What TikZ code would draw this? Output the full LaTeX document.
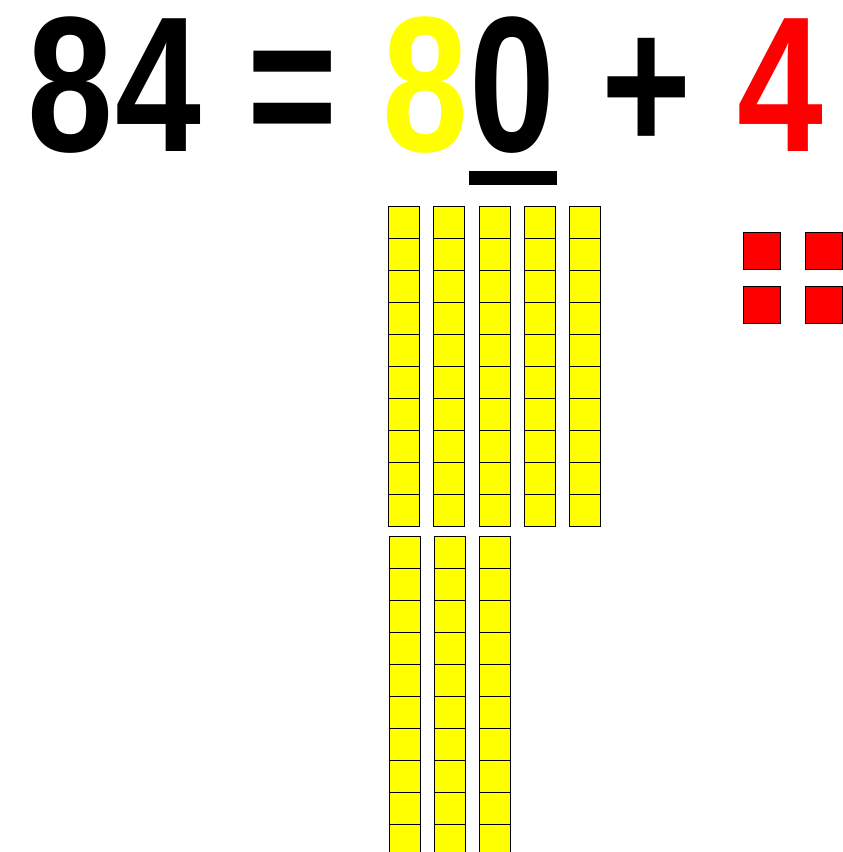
\documentclass[tikz,border=0pt]{standalone}
\usepackage{fontspec}
\usepackage{tikz}
\newfontfamily\numfont{Liberation Sans}[FakeStretch=0.8]
\definecolor{rodyellow}{RGB}{255,255,0}
\definecolor{unitred}{RGB}{255,0,0}
\tikzset{
  digit/.style={anchor=base,inner sep=0pt,font=\numfont\bfseries\fontsize{193pt}{193pt}\selectfont},
  tencell/.style={draw=black,line width=1pt,fill=rodyellow,minimum width=31pt,minimum height=32pt,inner sep=0pt},
  onecell/.style={draw=black,line width=1pt,fill=unitred,minimum width=37pt,minimum height=37pt,inner sep=0pt}
}
\begin{document}
\begin{tikzpicture}[x=1pt,y=-1pt]
\useasboundingbox (0,0) rectangle (843,852);
% equation
\node[digit] (n8) at (70,151) {8};
\node[digit] (n4) at (158,151) {4};
\node[digit] (eq) at (292.5,151) {=};
\node[digit,text=rodyellow] (tens) at (425,151) {8};
\node[digit] (zero) at (512.5,151) {0};
\node[digit] (plus) at (647,151) {+};
\node[digit,text=unitred] (ones) at (780.5,151) {4};
\fill[black] (469,171) rectangle (557,185);
% eight rods of ten
\foreach \c/\x in {1/388.3,2/433.3,3/479.3,4/524.3,5/569.3}
  \foreach \r in {0,...,9}
    \node[tencell] (rodA\c-\r) at (\x+15.5,206.3+\r*32+16) {};
\foreach \c/\x in {1/389.3,2/434.3,3/479.3}
  \foreach \r in {0,...,9}
    \node[tencell] (rodB\c-\r) at (\x+15.5,536.3+\r*32+16) {};
% four units
\node[onecell] (u1) at (761.8,250.8) {};
\node[onecell] (u2) at (823.8,250.8) {};
\node[onecell] (u3) at (761.8,304.8) {};
\node[onecell] (u4) at (823.8,304.8) {};
\end{tikzpicture}
\end{document}
